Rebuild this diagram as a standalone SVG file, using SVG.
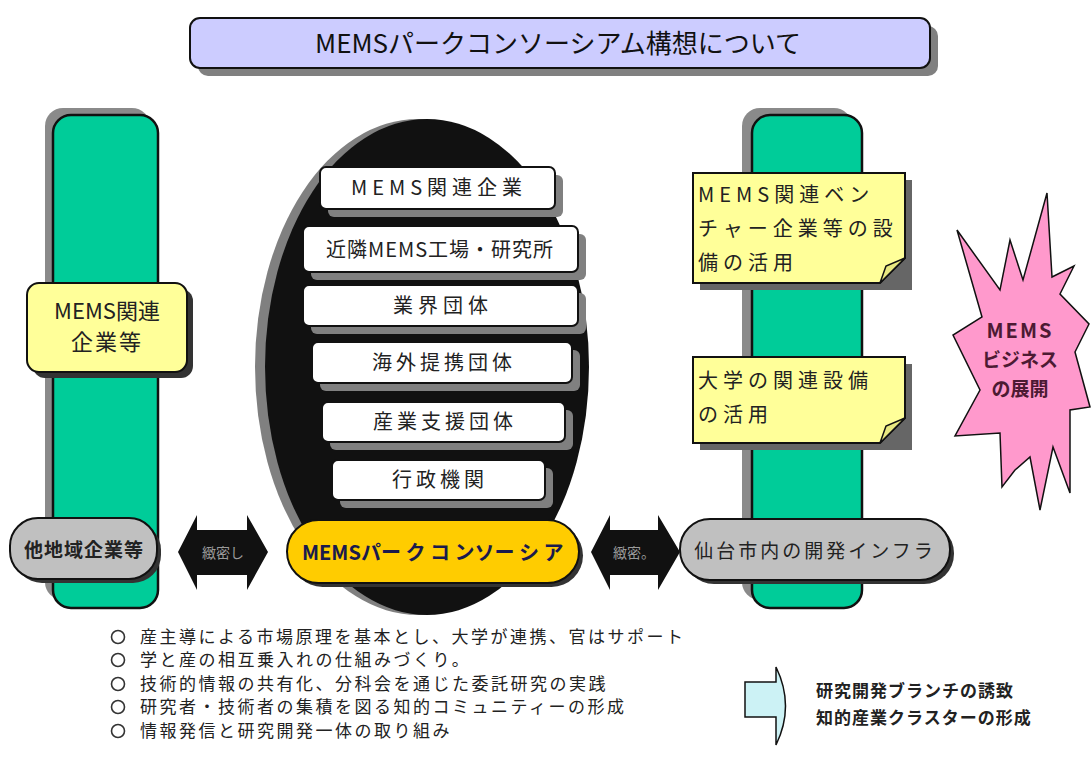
<svg xmlns="http://www.w3.org/2000/svg" width="1091" height="765" viewBox="0 0 1091 765">
<style>
text{font-family:"Noto Sans CJK JP","Noto Sans CJK SC",sans-serif;}
.blk{fill:#111;}
.wb{fill:#fff;stroke:#111;stroke-width:2;}
.sh{fill:#808080;}
.grn{fill:#00cc99;stroke:#111;stroke-width:2.5;}
.note{fill:#ffff99;stroke:#111;stroke-width:2;}
.lbl{font-size:20px;fill:#222;text-anchor:middle;}
.bul{font-size:17px;fill:#222;letter-spacing:2.5px;}
</style>
<rect width="1091" height="765" fill="#fff"/>

<g id="title">
<rect x="198" y="26" width="740" height="50" rx="10" class="sh"/>
<rect x="190" y="18" width="740" height="50" rx="10" fill="#ccccff" stroke="#111" stroke-width="2"/>
<text x="558" y="53" font-size="26" text-anchor="middle" fill="#111">MEMSパークコンソーシアム構想について</text>
</g>

<g id="left-column">
<rect x="45" y="108" width="105" height="492" rx="18" fill="#8a8a8a"/>
<rect x="53" y="115" width="105" height="493" rx="18" class="grn"/>
</g>

<g id="left-note">
<rect x="33" y="289" width="160" height="89" rx="12" fill="#333"/>
<rect x="27" y="283" width="160" height="89" rx="12" class="note"/>
<text x="107" y="319" font-size="22" text-anchor="middle" fill="#222">MEMS関連</text>
<text x="107" y="350" font-size="22" text-anchor="middle" fill="#222" letter-spacing="2">企業等</text>
</g>

<g id="right-column">
<rect x="742" y="108" width="110" height="492" rx="18" fill="#8a8a8a"/>
<rect x="752" y="115" width="110" height="493" rx="18" class="grn"/>
</g>

<g id="right-note-1">
<rect x="700" y="180" width="212" height="110" fill="#666"/>
<path d="M693 173 H905 V258 L880 283 H693 Z" class="note"/>
<path d="M880 283 L886 266 L905 258 Z" fill="#e8e880" stroke="#111" stroke-width="1.5"/>
<text x="698" y="202" font-size="20" fill="#222" letter-spacing="5">MEMS関連ベン</text>
<text x="698" y="236" font-size="20" fill="#222" letter-spacing="5">チャー企業等の設</text>
<text x="698" y="270" font-size="20" fill="#222" letter-spacing="5">備の活用</text>
</g>

<g id="right-note-2">
<rect x="700" y="364" width="212" height="86" fill="#666"/>
<path d="M693 357 H905 V418 L880 443 H693 Z" class="note"/>
<path d="M880 443 L886 426 L905 418 Z" fill="#e8e880" stroke="#111" stroke-width="1.5"/>
<text x="698" y="388" font-size="20" fill="#222" letter-spacing="5">大学の関連設備</text>
<text x="698" y="422" font-size="20" fill="#222" letter-spacing="5">の活用</text>
</g>

<g id="center-ellipse">
<ellipse cx="418" cy="367" rx="163" ry="248" fill="#808080"/>
<ellipse cx="427" cy="367" rx="162" ry="248" class="blk"/>
</g>

<g id="box-1">
<rect x="328" y="175" width="235" height="42" rx="6" class="sh"/>
<rect x="320" y="167" width="235" height="42" rx="6" class="wb"/>
<text x="439" y="195" class="lbl" letter-spacing="5">MEMS関連企業</text>
</g>
<g id="box-2">
<rect x="311" y="234" width="275" height="46" rx="6" class="sh"/>
<rect x="303" y="226" width="275" height="46" rx="6" class="wb"/>
<text x="440" y="257" class="lbl" letter-spacing="1">近隣MEMS工場・研究所</text>
</g>
<g id="box-3">
<rect x="311" y="293" width="275" height="41" rx="6" class="sh"/>
<rect x="303" y="285" width="275" height="41" rx="6" class="wb"/>
<text x="443" y="313" class="lbl" letter-spacing="5">業界団体</text>
</g>
<g id="box-4">
<rect x="320" y="350" width="260" height="41" rx="6" class="sh"/>
<rect x="312" y="342" width="260" height="41" rx="6" class="wb"/>
<text x="444" y="370" class="lbl" letter-spacing="4">海外提携団体</text>
</g>
<g id="box-5">
<rect x="330" y="410" width="243" height="40" rx="6" class="sh"/>
<rect x="322" y="402" width="243" height="40" rx="6" class="wb"/>
<text x="445" y="429" class="lbl" letter-spacing="4">産業支援団体</text>
</g>
<g id="box-6">
<rect x="340" y="468" width="213" height="40" rx="6" class="sh"/>
<rect x="332" y="460" width="213" height="40" rx="6" class="wb"/>
<text x="440" y="487" class="lbl" letter-spacing="4">行政機関</text>
</g>

<g id="center-pill">
<rect x="291" y="524" width="292" height="63" rx="31.5" fill="#333"/>
<rect x="287" y="520" width="292" height="63" rx="31.5" fill="#ffcc00" stroke="#111" stroke-width="2"/>
<text x="302" y="560" font-size="20" font-weight="bold" fill="#1a1a4d">MEMSパー ク コ ンソー シ ア</text>
</g>

<g id="left-pill">
<rect x="14" y="522" width="147" height="61" rx="28" fill="#333"/>
<rect x="10" y="518" width="147" height="61" rx="28" fill="#c0c0c0" stroke="#111" stroke-width="2"/>
<text x="84" y="557" font-size="19" font-weight="bold" text-anchor="middle" fill="#222" letter-spacing="1">他地域企業等</text>
</g>

<g id="right-pill">
<rect x="684" y="523" width="270" height="61" rx="30" fill="#333"/>
<rect x="680" y="519" width="270" height="61" rx="30" fill="#c0c0c0" stroke="#111" stroke-width="2"/>
<text x="815" y="558" font-size="19" text-anchor="middle" fill="#222" letter-spacing="3">仙台市内の開発インフラ</text>
</g>

<g id="starburst">
<path d="M957 230 L1000 290 L1010 240 L1023 280 L1047 193 L1052 277 L1074 266 L1060 294 L1089 324 L1075 352 L1090 407 L1070 410 L1070 493 L1053 447 L1040 510 L1030 457 L1015 470 L1002 487 L1000 433 L955 436 L980 390 L953 335 L982 317 Z" fill="#ff99cc" stroke="#111" stroke-width="1.5" stroke-linejoin="miter"/>
<text x="1020" y="338" font-size="20" font-weight="bold" text-anchor="middle" fill="#4d1a33" letter-spacing="2">MEMS</text>
<text x="1020" y="367" font-size="19" font-weight="bold" text-anchor="middle" fill="#4d1a33">ビジネス</text>
<text x="1020" y="396" font-size="19" font-weight="bold" text-anchor="middle" fill="#4d1a33">の展開</text>
</g>

<g id="connectors">
<g id="arrow-left">
<path d="M178 552 L197 515 V530 H247 V515 L268 552 L247 590 V575 H197 V590 Z" fill="#111"/>
<text x="223" y="558" font-size="14" text-anchor="middle" fill="#9a9a9a">緻密し</text>
</g>
<g id="arrow-right">
<path d="M591 552 L610 515 V530 H658 V515 L680 552 L658 590 V575 H610 V590 Z" fill="#111"/>
<text x="634" y="558" font-size="14" text-anchor="middle" fill="#9a9a9a">緻密。</text>
</g>
<g id="arrow-result">
<path d="M745 682 H776 V667 Q795 706 776 745 V717 H745 Z" fill="#ccf2f5" stroke="#111" stroke-width="1.5"/>
</g>
</g>

<g id="bullets">
<g class="bul">
<circle cx="118" cy="637" r="6.5" fill="none" stroke="#333" stroke-width="1.6"/>
<text x="140" y="643">産主導による市場原理を基本とし、大学が連携、官はサポート</text>
<circle cx="118" cy="660" r="6.5" fill="none" stroke="#333" stroke-width="1.6"/>
<text x="140" y="666">学と産の相互乗入れの仕組みづくり。</text>
<circle cx="118" cy="684" r="6.5" fill="none" stroke="#333" stroke-width="1.6"/>
<text x="140" y="690">技術的情報の共有化、分科会を通じた委託研究の実践</text>
<circle cx="118" cy="707" r="6.5" fill="none" stroke="#333" stroke-width="1.6"/>
<text x="140" y="713">研究者・技術者の集積を図る知的コミュニティーの形成</text>
<circle cx="118" cy="731" r="6.5" fill="none" stroke="#333" stroke-width="1.6"/>
<text x="140" y="737">情報発信と研究開発一体の取り組み</text>
</g>
</g>

<g id="result-text">
<text x="816" y="697" font-size="17" font-weight="bold" fill="#222" letter-spacing="1">研究開発ブランチの誘致</text>
<text x="816" y="724" font-size="17" font-weight="bold" fill="#222" letter-spacing="1">知的産業クラスターの形成</text>
</g>
</svg>
